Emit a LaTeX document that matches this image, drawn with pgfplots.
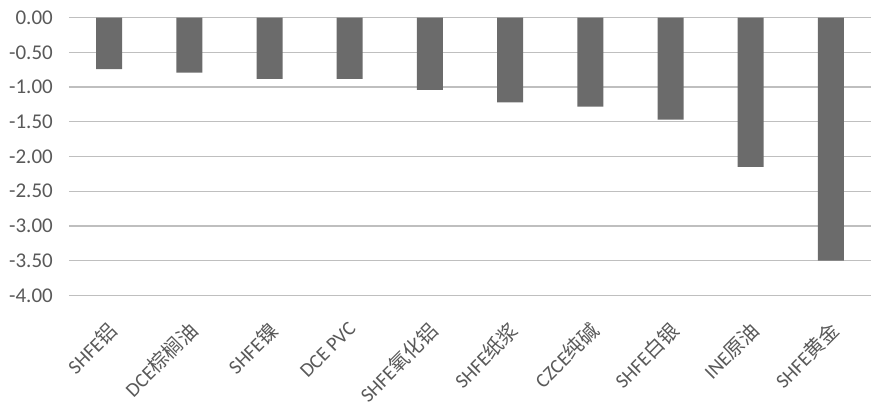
\documentclass[border=0pt]{standalone}
\usepackage{pgfplots}
\pgfplotsset{compat=1.18}
\usepackage{fontspec}
\setmainfont{Carlito}
\newfontfamily\cjk{Noto Sans CJK SC}
\definecolor{bargray}{HTML}{6B6B6B}
\definecolor{gridgray}{HTML}{BFBFBF}
\definecolor{textgray}{HTML}{595959}
\begin{document}
\begin{tikzpicture}
\begin{axis}[
  scale only axis,
  width=802pt, height=277.6pt,
  at={(0,0)}, anchor=south west,
  xmin=-0.5, xmax=9.5,
  ymin=-4, ymax=0,
  axis line style={draw=none},
  major tick length=0pt,
  ymajorgrids,
  grid style={color=gridgray, line width=1.3pt},
  ytick={-4,-3.5,-3,-2.5,-2,-1.5,-1,-0.5,0},
  yticklabels={-4.00,-3.50,-3.00,-2.50,-2.00,-1.50,-1.00,-0.50,0.00},
  yticklabel style={font=\fontsize{21}{24}\selectfont, text=textgray, anchor=east, inner sep=0pt, xshift=-16pt},
  xtick=data,
  xticklabels={SHFE{\cjk 铝},DCE{\cjk 棕榈油},SHFE{\cjk 镍},DCE PVC,SHFE{\cjk 氧化铝},SHFE{\cjk 纸浆},CZCE{\cjk 纯碱},SHFE{\cjk 白银},INE{\cjk 原油},SHFE{\cjk 黄金}},
  xticklabel style={font=\fontsize{20}{23}\selectfont, text=textgray, inner sep=0pt, xshift=-2pt, yshift=-25pt, rotate=45, anchor=north east},
  clip=false,
]
\addplot[ybar, bar width=26pt, fill=bargray, draw=none] coordinates {
  (0,-0.74) (1,-0.79) (2,-0.88) (3,-0.88) (4,-1.04)
  (5,-1.22) (6,-1.28) (7,-1.47) (8,-2.15) (9,-3.50)
};
\end{axis}
\pgfresetboundingbox
\path (-69pt,-120.7pt) rectangle (814pt,295.3pt);
\end{tikzpicture}
\end{document}
